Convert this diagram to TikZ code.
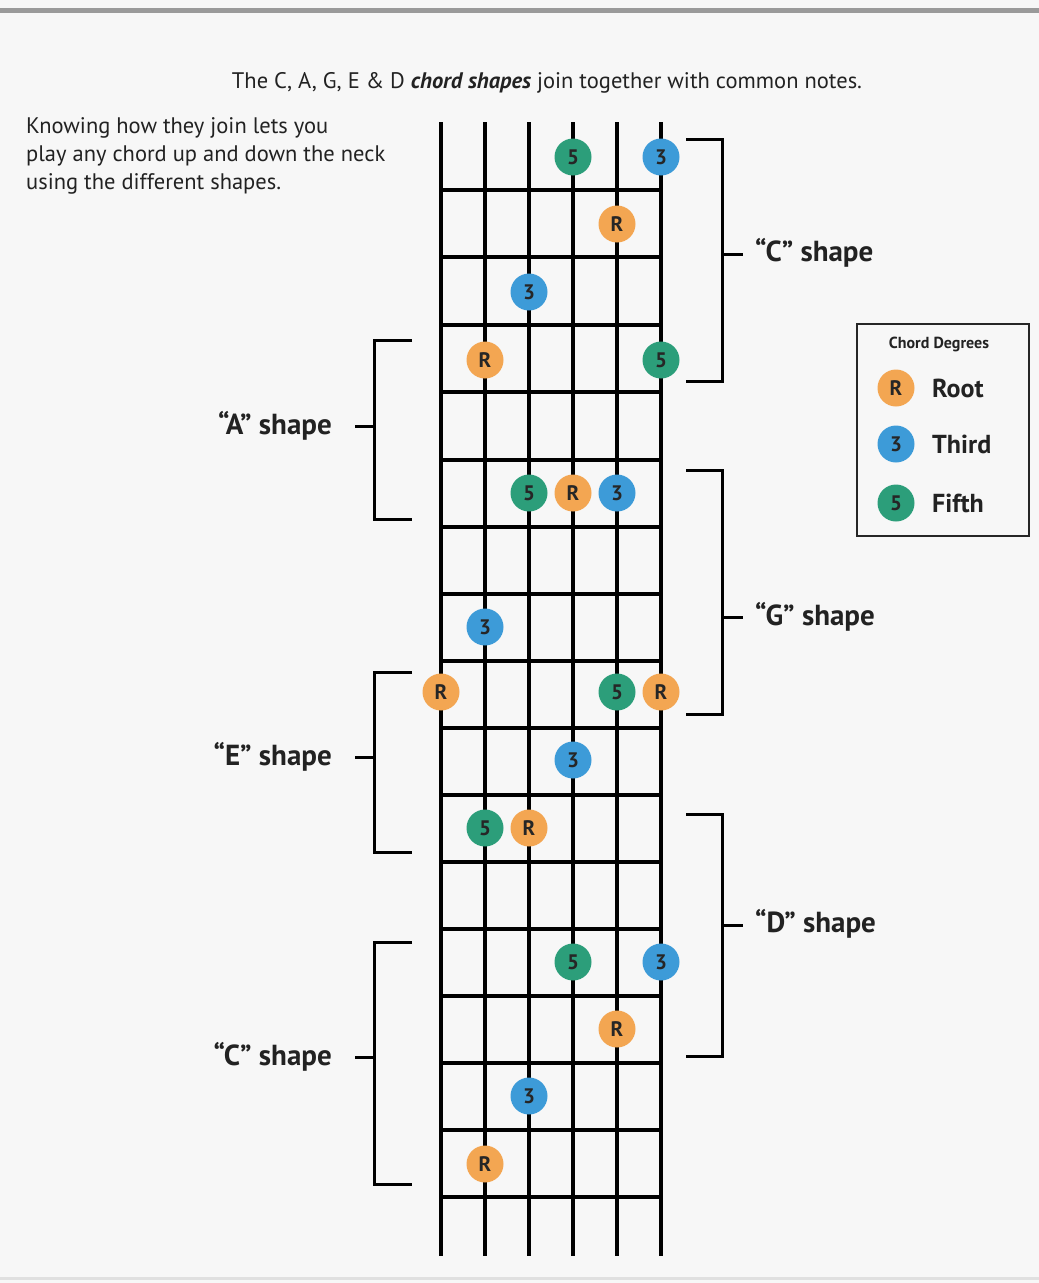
\documentclass[tikz,border=0pt]{standalone}
\usepackage{fontspec}
\setmainfont{PT Sans}
\definecolor{bgc}{HTML}{F7F7F7}
\definecolor{rootc}{HTML}{F3A652}
\definecolor{thirdc}{HTML}{3D9BD8}
\definecolor{fifthc}{HTML}{2C9E7A}
\definecolor{barc}{HTML}{9A9A9A}
\definecolor{txtc}{HTML}{222222}
\begin{document}
\begin{tikzpicture}[x=1pt,y=-1pt,
  fretline/.style={line width=3.8pt, black},
  brk/.style={line width=3pt, black, line join=miter},
  note/.style={circle, minimum size=37pt, inner sep=0pt, font=\bfseries\fontsize{21}{21}\selectfont, text=black!85},
  rootn/.style={note, fill=rootc},
  thirdn/.style={note, fill=thirdc},
  fifthn/.style={note, fill=fifthc},
  shapelbl/.style={font=\bfseries\fontsize{29}{29}\selectfont, inner sep=0pt, text=txtc},
  legtxt/.style={font=\bfseries\fontsize{26}{26}\selectfont, anchor=west, inner sep=0pt, text=txtc},
]
\fill[bgc] (0,0) rectangle (1039,1283);
\useasboundingbox (0,0) rectangle (1039,1283);
\fill[barc] (0,8) rectangle (1039,13);
\fill[black!12] (0,1277) rectangle (1039,1280);

% title and intro
\node[font=\fontsize{22.5}{22.5}\selectfont, inner sep=0pt, text=txtc] (title) at (547,83)
  {The C, A, G, E \& D \textbf{\textit{chord shapes}} join together with common notes.};
\node[font=\fontsize{22.5}{28}\selectfont, align=left, anchor=north west, inner sep=0pt, text=txtc] (intro) at (26,117)
  {Knowing how they join lets you\\play any chord up and down the neck\\using the different shapes.};

% strings
\foreach \i/\x in {1/441,2/485,3/529,4/573,5/617,6/661}{
  \coordinate (st\i) at (\x,122);
  \coordinate (sb\i) at (\x,1256);
  \draw[fretline] (st\i) -- (sb\i);
}
% frets
\foreach \y in {190,257,325,392,460,527,594,661,728,795,862,929,996,1063,1130,1197}{
  \draw[fretline] (441,\y) -- (661,\y);
}

% notes
\node[fifthn] (n1) at (573,157) {5};
\node[thirdn] (n2) at (661,157) {3};
\node[rootn]  (n3) at (617,224) {R};
\node[thirdn] (n4) at (529,292) {3};
\node[rootn]  (n5) at (485,360) {R};
\node[fifthn] (n6) at (661,360) {5};
\node[fifthn] (n7) at (529,493) {5};
\node[rootn]  (n8) at (573,493) {R};
\node[thirdn] (n9) at (617,493) {3};
\node[thirdn] (n10) at (485,627) {3};
\node[rootn]  (n11) at (441,692) {R};
\node[fifthn] (n12) at (617,692) {5};
\node[rootn]  (n13) at (661,692) {R};
\node[thirdn] (n14) at (573,760) {3};
\node[fifthn] (n15) at (485,828) {5};
\node[rootn]  (n16) at (529,828) {R};
\node[fifthn] (n17) at (573,962) {5};
\node[thirdn] (n18) at (661,962) {3};
\node[rootn]  (n19) at (617,1029) {R};
\node[thirdn] (n20) at (529,1096) {3};
\node[rootn]  (n21) at (485,1164) {R};

% right brackets
\draw[brk] (686,139) -- (722,139) -- (722,381) -- (686,381);
\draw[brk] (722,254) -- (743,254);
\node[shapelbl, anchor=west] (lc1) at (755,253) {“C” shape};

\draw[brk] (686,470) -- (722,470) -- (722,714) -- (686,714);
\draw[brk] (722,617) -- (743,617);
\node[shapelbl, anchor=west] (lg) at (755,617) {“G” shape};

\draw[brk] (686,814) -- (722,814) -- (722,1056) -- (686,1056);
\draw[brk] (722,925) -- (743,925);
\node[shapelbl, anchor=west] (ld) at (755,924) {“D” shape};

% left brackets
\draw[brk] (412,340) -- (374,340) -- (374,519) -- (412,519);
\draw[brk] (374,426) -- (355,426);
\node[shapelbl, anchor=east] (la) at (332,426) {“A” shape};

\draw[brk] (412,672) -- (374,672) -- (374,852) -- (412,852);
\draw[brk] (374,757) -- (355,757);
\node[shapelbl, anchor=east] (le) at (332,757) {“E” shape};

\draw[brk] (412,942) -- (374,942) -- (374,1184) -- (412,1184);
\draw[brk] (374,1057) -- (355,1057);
\node[shapelbl, anchor=east] (lc2) at (332,1057) {“C” shape};

% legend
\draw[line width=2.2pt, black!85] (857,324) rectangle (1029,536);
\node[font=\bfseries\fontsize{16}{16}\selectfont, inner sep=0pt, text=txtc] (lt) at (939,344) {Chord Degrees};
\node[rootn]  (lr) at (896,388) {R};
\node[thirdn] (l3) at (896,444) {3};
\node[fifthn] (l5) at (896,503) {5};
\node[legtxt] (ltr) at (932,388) {Root};
\node[legtxt] (ltt) at (932,444) {Third};
\node[legtxt] (ltf) at (932,503) {Fifth};
\end{tikzpicture}
\end{document}
